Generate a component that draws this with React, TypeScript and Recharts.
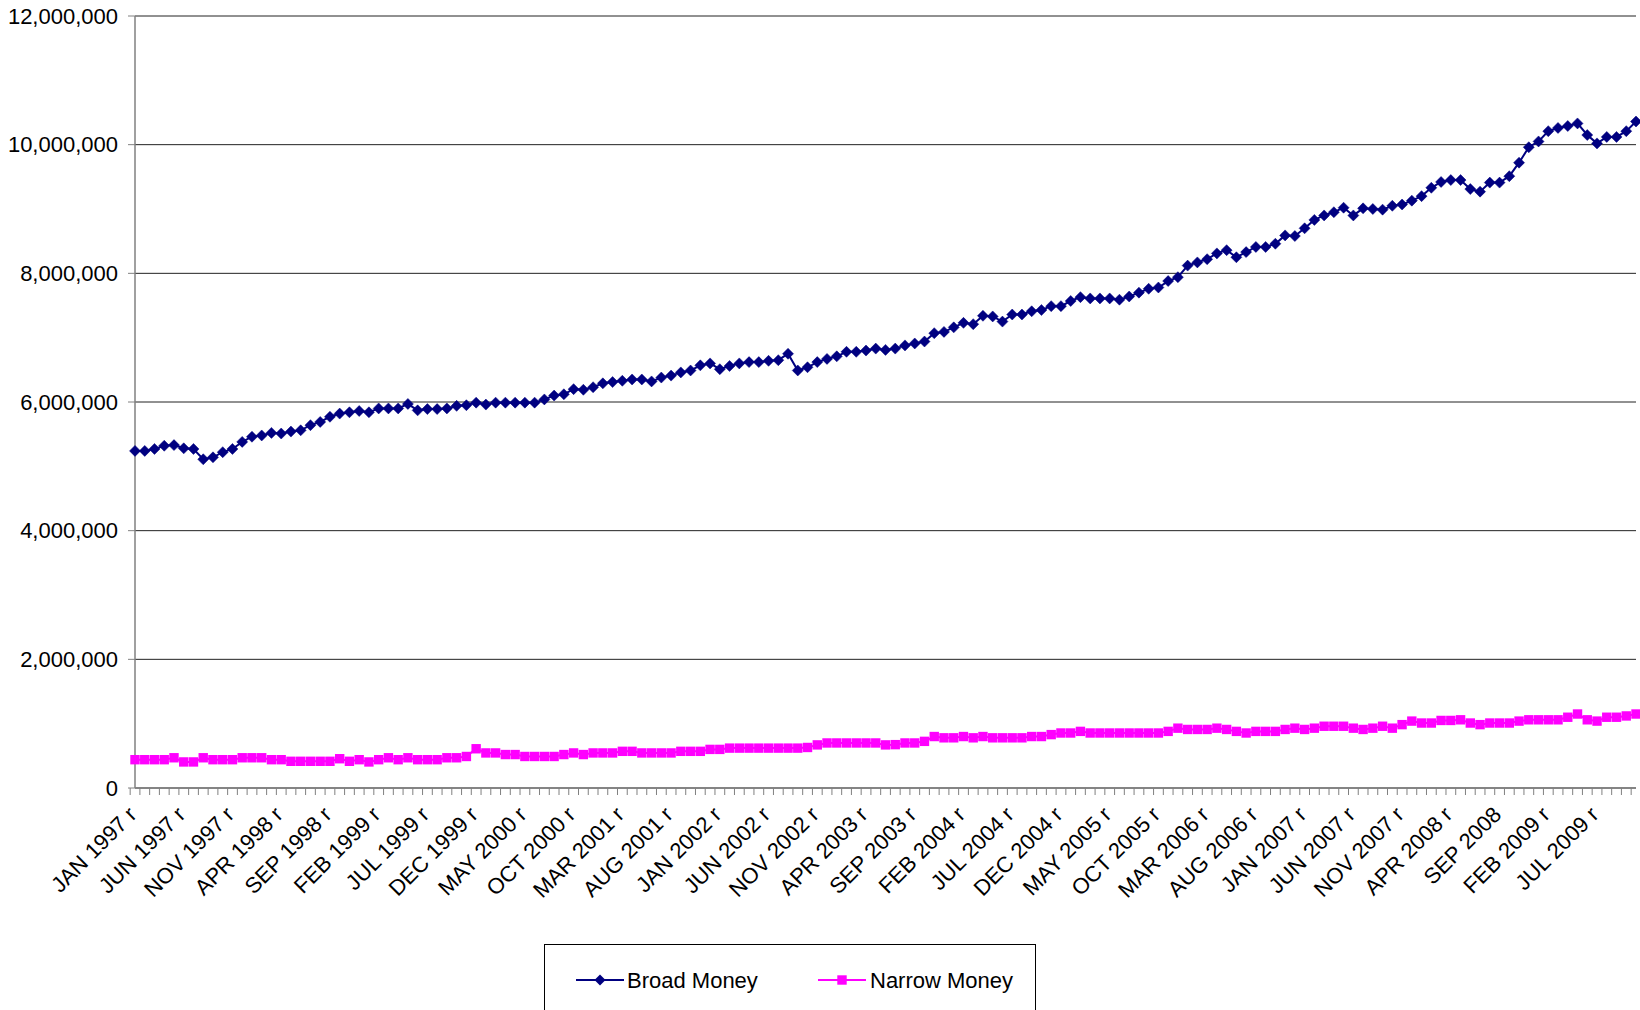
import React from 'react';
import { LineChart, Line, XAxis, YAxis, CartesianGrid } from 'recharts';

const categories: string[] = [
  'JAN 1997 r','FEB 1997 r','MAR 1997 r','APR 1997 r','MAY 1997 r','JUN 1997 r','JUL 1997 r','AUG 1997 r','SEP 1997 r','OCT 1997 r','NOV 1997 r','DEC 1997 r',
  'JAN 1998 r','FEB 1998 r','MAR 1998 r','APR 1998 r','MAY 1998 r','JUN 1998 r','JUL 1998 r','AUG 1998 r','SEP 1998 r','OCT 1998 r','NOV 1998 r','DEC 1998 r',
  'JAN 1999 r','FEB 1999 r','MAR 1999 r','APR 1999 r','MAY 1999 r','JUN 1999 r','JUL 1999 r','AUG 1999 r','SEP 1999 r','OCT 1999 r','NOV 1999 r','DEC 1999 r',
  'JAN 2000 r','FEB 2000 r','MAR 2000 r','APR 2000 r','MAY 2000 r','JUN 2000 r','JUL 2000 r','AUG 2000 r','SEP 2000 r','OCT 2000 r','NOV 2000 r','DEC 2000 r',
  'JAN 2001 r','FEB 2001 r','MAR 2001 r','APR 2001 r','MAY 2001 r','JUN 2001 r','JUL 2001 r','AUG 2001 r','SEP 2001 r','OCT 2001 r','NOV 2001 r','DEC 2001 r',
  'JAN 2002 r','FEB 2002 r','MAR 2002 r','APR 2002 r','MAY 2002 r','JUN 2002 r','JUL 2002 r','AUG 2002 r','SEP 2002 r','OCT 2002 r','NOV 2002 r','DEC 2002 r',
  'JAN 2003 r','FEB 2003 r','MAR 2003 r','APR 2003 r','MAY 2003 r','JUN 2003 r','JUL 2003 r','AUG 2003 r','SEP 2003 r','OCT 2003 r','NOV 2003 r','DEC 2003 r',
  'JAN 2004 r','FEB 2004 r','MAR 2004 r','APR 2004 r','MAY 2004 r','JUN 2004 r','JUL 2004 r','AUG 2004 r','SEP 2004 r','OCT 2004 r','NOV 2004 r','DEC 2004 r',
  'JAN 2005 r','FEB 2005 r','MAR 2005 r','APR 2005 r','MAY 2005 r','JUN 2005 r','JUL 2005 r','AUG 2005 r','SEP 2005 r','OCT 2005 r','NOV 2005 r','DEC 2005 r',
  'JAN 2006 r','FEB 2006 r','MAR 2006 r','APR 2006 r','MAY 2006 r','JUN 2006 r','JUL 2006 r','AUG 2006 r','SEP 2006 r','OCT 2006 r','NOV 2006 r','DEC 2006 r',
  'JAN 2007 r','FEB 2007 r','MAR 2007 r','APR 2007 r','MAY 2007 r','JUN 2007 r','JUL 2007 r','AUG 2007 r','SEP 2007 r','OCT 2007 r','NOV 2007 r','DEC 2007 r',
  'JAN 2008 r','FEB 2008 r','MAR 2008 r','APR 2008 r','MAY 2008 r','JUN 2008 r','JUL 2008 r','AUG 2008 r','SEP 2008','OCT 2008','NOV 2008','DEC 2008',
  'JAN 2009 r','FEB 2009 r','MAR 2009 r','APR 2009 r','MAY 2009 r','JUN 2009 r','JUL 2009 r','AUG 2009 r','SEP 2009 r','OCT 2009 r','NOV 2009 r',
];

// values in millions (multiplied below)
const broadMoney: number[] = [
  5.24, 5.24, 5.27, 5.32, 5.33, 5.28, 5.27, 5.11, 5.14, 5.22, 5.27, 5.38,
  5.46, 5.48, 5.52, 5.51, 5.54, 5.56, 5.64, 5.69, 5.77, 5.82, 5.84, 5.86,
  5.84, 5.90, 5.90, 5.90, 5.97, 5.87, 5.89, 5.89, 5.90, 5.94, 5.95, 5.99,
  5.96, 5.99, 5.99, 5.99, 5.99, 5.99, 6.04, 6.10, 6.12, 6.20, 6.19, 6.23,
  6.29, 6.31, 6.33, 6.35, 6.35, 6.32, 6.38, 6.41, 6.46, 6.49, 6.57, 6.60,
  6.51, 6.56, 6.60, 6.62, 6.62, 6.64, 6.65, 6.75, 6.49, 6.54, 6.62, 6.67,
  6.71, 6.78, 6.78, 6.80, 6.83, 6.81, 6.83, 6.88, 6.91, 6.94, 7.07, 7.09,
  7.16, 7.23, 7.21, 7.34, 7.33, 7.25, 7.36, 7.36, 7.41, 7.43, 7.49, 7.49,
  7.57, 7.63, 7.61, 7.61, 7.61, 7.59, 7.64, 7.70, 7.76, 7.78, 7.88, 7.94,
  8.12, 8.17, 8.22, 8.31, 8.36, 8.25, 8.33, 8.41, 8.41, 8.46, 8.59, 8.58,
  8.70, 8.83, 8.90, 8.95, 9.02, 8.90, 9.01, 9.00, 8.99, 9.05, 9.07, 9.13,
  9.20, 9.33, 9.42, 9.45, 9.45, 9.31, 9.27, 9.41, 9.41, 9.51, 9.72, 9.96,
  10.05, 10.21, 10.26, 10.29, 10.33, 10.15, 10.02, 10.12, 10.12, 10.21, 10.36,
];

const narrowMoney: number[] = [
  0.44, 0.44, 0.44, 0.44, 0.47, 0.405, 0.405, 0.47, 0.44, 0.44, 0.44, 0.47,
  0.47, 0.47, 0.44, 0.44, 0.415, 0.415, 0.415, 0.415, 0.415, 0.455, 0.415, 0.44,
  0.405, 0.44, 0.47, 0.44, 0.47, 0.44, 0.44, 0.44, 0.47, 0.47, 0.49, 0.61,
  0.545, 0.545, 0.52, 0.52, 0.49, 0.49, 0.49, 0.49, 0.52, 0.545, 0.52, 0.545,
  0.545, 0.545, 0.57, 0.57, 0.545, 0.545, 0.545, 0.545, 0.57, 0.57, 0.57, 0.60,
  0.60, 0.62, 0.62, 0.62, 0.62, 0.62, 0.62, 0.62, 0.62, 0.63, 0.67, 0.70,
  0.70, 0.70, 0.70, 0.70, 0.70, 0.67, 0.674, 0.70, 0.70, 0.725, 0.80, 0.78,
  0.78, 0.80, 0.78, 0.80, 0.78, 0.78, 0.78, 0.78, 0.80, 0.80, 0.83, 0.855,
  0.855, 0.88, 0.855, 0.855, 0.855, 0.855, 0.855, 0.855, 0.855, 0.855, 0.88, 0.93,
  0.91, 0.91, 0.91, 0.93, 0.91, 0.88, 0.855, 0.88, 0.88, 0.88, 0.91, 0.93,
  0.91, 0.93, 0.96, 0.96, 0.96, 0.93, 0.91, 0.93, 0.96, 0.93, 0.985, 1.04,
  1.01, 1.01, 1.05, 1.05, 1.06, 1.01, 0.985, 1.01, 1.01, 1.01, 1.04, 1.06,
  1.06, 1.06, 1.06, 1.10, 1.15, 1.06, 1.04, 1.10, 1.10, 1.12, 1.15,
];

const yTicks: number[] = [0, 2000000, 4000000, 6000000, 8000000, 10000000, 12000000];

const data = categories.map((c, i) => ({
  month: c,
  broad: Math.round(broadMoney[i] * 1000000),
  narrow: Math.round(narrowMoney[i] * 1000000),
}));

const W = 1640;
const H = 1010;
const LEFT = 135;
const RIGHT_M = 4;
const TOP = 16;
const X_AXIS_H = 150;
const BOTTOM_M = H - 788 - X_AXIS_H;
const N = categories.length;
const STEP = (W - LEFT - RIGHT_M) / N;
const FONT = '"Liberation Sans", Arial, sans-serif';
const NAVY = '#000080';
const MAGENTA = '#FF00FF';
const FS = 22;

const XTick = (props: any) => {
  const { x, y, payload, index } = props;
  const i = typeof index === 'number' ? index : payload?.index ?? 0;
  const lx = x - STEP / 2;
  return (
    <g>
      <line x1={lx} y1={y} x2={lx} y2={y + 7} stroke="#808080" strokeWidth={1} />
      {i === N - 1 && (
        <line x1={x + STEP / 2} y1={y} x2={x + STEP / 2} y2={y + 7} stroke="#808080" strokeWidth={1} />
      )}
      {i % 5 === 0 && (
        <text
          x={x + 3}
          y={y + 28}
          transform={`rotate(-45, ${x + 3}, ${y + 28})`}
          textAnchor="end"
          fontSize={FS}
          fontFamily={FONT}
          fill="#000"
        >
          {payload.value}
        </text>
      )}
    </g>
  );
};

const Diamond = (props: any) => {
  const { cx, cy } = props;
  if (cx == null || cy == null) return null;
  const r = 5.5;
  return (
    <polygon
      points={`${cx},${cy - r} ${cx + r},${cy} ${cx},${cy + r} ${cx - r},${cy}`}
      fill={NAVY}
      stroke={NAVY}
      strokeWidth={0.5}
    />
  );
};

const Square = (props: any) => {
  const { cx, cy } = props;
  if (cx == null || cy == null) return null;
  const s = 4.7;
  return <rect x={cx - s} y={cy - s} width={2 * s} height={2 * s} fill={MAGENTA} />;
};

export default function App() {
  return (
    <div
      style={{
        position: 'absolute',
        left: 0,
        top: 0,
        width: W,
        height: H,
        overflow: 'hidden',
        background: '#fff',
        fontFamily: FONT,
      }}
    >
      <LineChart
        width={W}
        height={H}
        data={data}
        margin={{ top: TOP, right: RIGHT_M, bottom: BOTTOM_M, left: 0 }}
      >
        <CartesianGrid vertical={false} stroke="#222" strokeWidth={1} />
        <XAxis
          dataKey="month"
          interval={0}
          height={X_AXIS_H}
          tick={<XTick />}
          tickLine={false}
          tickSize={0}
          tickMargin={0}
          axisLine={{ stroke: '#808080', strokeWidth: 1.5 }}
        />
        <YAxis
          width={LEFT}
          domain={[0, 12000000]}
          ticks={yTicks}
          interval={0}
          tickFormatter={(v: number) => v.toLocaleString('en-US')}
          tick={{ fontSize: FS, fontFamily: FONT, fill: '#000' }}
          tickSize={7}
          tickMargin={10}
          tickLine={{ stroke: '#808080' }}
          axisLine={{ stroke: '#808080', strokeWidth: 1.5 }}
        />
        <Line
          type="linear"
          dataKey="broad"
          name="Broad Money"
          stroke={NAVY}
          strokeWidth={2}
          dot={<Diamond />}
          activeDot={false}
          isAnimationActive={false}
        />
        <Line
          type="linear"
          dataKey="narrow"
          name="Narrow Money"
          stroke={MAGENTA}
          strokeWidth={2}
          dot={<Square />}
          activeDot={false}
          isAnimationActive={false}
        />
      </LineChart>
      <div
        style={{
          position: 'absolute',
          left: 544,
          top: 944,
          width: 492,
          height: 80,
          border: '1px solid #000',
          boxSizing: 'border-box',
          background: '#fff',
        }}
      >
        <svg width={492} height={80} style={{ position: 'absolute', left: -1, top: -1 }}>
          <line x1={32} y1={36} x2={80} y2={36} stroke={NAVY} strokeWidth={2} />
          <polygon points={`56,30.5 61.5,36 56,41.5 50.5,36`} fill={NAVY} />
          <text x={83} y={44} fontSize={FS} fontFamily={FONT} fill="#000">Broad Money</text>
          <line x1={274} y1={36} x2={322} y2={36} stroke={MAGENTA} strokeWidth={2} />
          <rect x={293.3} y={31.3} width={9.4} height={9.4} fill={MAGENTA} />
          <text x={326} y={44} fontSize={FS} fontFamily={FONT} fill="#000">Narrow Money</text>
        </svg>
      </div>
    </div>
  );
}
